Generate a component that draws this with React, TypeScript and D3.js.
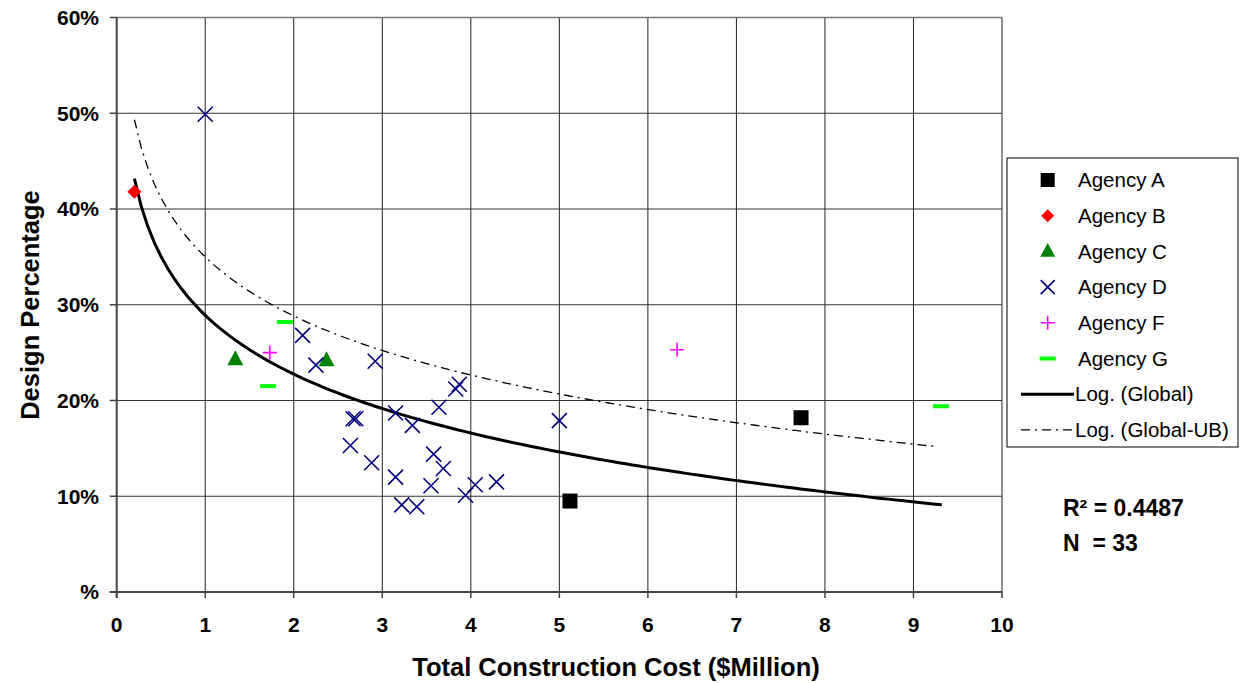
import React from "react";
import * as d3 from "d3";

// ---------- data ----------
const agencyA: [number, number][] = [[7.73, 18.2], [5.12, 9.5]];
const agencyB: [number, number][] = [[0.2, 41.8]];
const agencyC: [number, number][] = [[1.34, 24.4], [2.37, 24.3]];
const agencyD: [number, number][] = [
  [1.0, 49.9], [2.1, 26.8], [2.25, 23.7], [2.92, 24.1], [3.87, 21.7], [3.83, 21.2],
  [3.64, 19.3], [3.15, 18.7], [3.34, 17.4], [2.67, 18.1], [2.7, 18.1], [2.64, 15.3],
  [2.88, 13.5], [3.58, 14.4], [3.69, 12.9], [3.15, 12.0], [3.55, 11.1], [3.94, 10.1],
  [4.05, 11.2], [4.29, 11.5], [3.22, 9.1], [3.39, 8.9], [5.0, 17.9],
];
const agencyF: [number, number][] = [[1.73, 25.0], [6.33, 25.3]];
const agencyG: [number, number][] = [[1.9, 28.2], [1.71, 21.5], [9.31, 19.4]];

// logarithmic trendline coefficients (y = a*ln(x) + b), in %
const globalFit = { a: -8.87, b: 28.9, xMin: 0.2, xMax: 9.32 };
const upperFit = { a: -8.9, b: 35.0, xMin: 0.2, xMax: 9.25 };

const xTicks = [0, 1, 2, 3, 4, 5, 6, 7, 8, 9, 10];
const yTicks = [0, 10, 20, 30, 40, 50, 60];
const legendLabels = [
  "Agency A", "Agency B", "Agency C", "Agency D", "Agency F", "Agency G",
  "Log. (Global)", "Log. (Global-UB)",
];
const statsLines = ["R² = 0.4487", "N  = 33"];

// ---------- layout ----------
const W = 1247, H = 683;
const plot = { left: 116.7, right: 1002, top: 17.5, bottom: 592 };
const FONT = "'Liberation Sans', Arial, sans-serif";

const x = d3.scaleLinear().domain([0, 10]).range([plot.left, plot.right]);
const y = d3.scaleLinear().domain([0, 60]).range([plot.bottom, plot.top]);

const NAVY = "#000080";

function Square({ cx, cy, s = 15 }: { cx: number; cy: number; s?: number }) {
  return <rect x={cx - s / 2} y={cy - s / 2} width={s} height={s} fill="#000" />;
}
function Diamond({ cx, cy, r = 7 }: { cx: number; cy: number; r?: number }) {
  return <path d={`M${cx},${cy - r}L${cx + r},${cy}L${cx},${cy + r}L${cx - r},${cy}Z`} fill="#ff0000" />;
}
function Tri({ cx, cy, r = 8 }: { cx: number; cy: number; r?: number }) {
  return <path d={`M${cx},${cy - r}L${cx + r},${cy + r * 0.85}L${cx - r},${cy + r * 0.85}Z`} fill="#008000" />;
}
function XMark({ cx, cy, r = 7.5 }: { cx: number; cy: number; r?: number }) {
  return (
    <path d={`M${cx - r},${cy - r}L${cx + r},${cy + r}M${cx - r},${cy + r}L${cx + r},${cy - r}`}
      stroke={NAVY} strokeWidth={1.6} fill="none" />
  );
}
function Plus({ cx, cy, r = 7 }: { cx: number; cy: number; r?: number }) {
  return (
    <path d={`M${cx - r},${cy}L${cx + r},${cy}M${cx},${cy - r}L${cx},${cy + r}`}
      stroke="#ff00ff" strokeWidth={1.6} fill="none" />
  );
}
function Dash({ cx, cy }: { cx: number; cy: number }) {
  return <rect x={cx - 8} y={cy - 2} width={16} height={4} fill="#00ff00" />;
}

function fitPath(f: { a: number; b: number; xMin: number; xMax: number }) {
  const xs = d3.range(0, 121).map((i) => f.xMin + ((f.xMax - f.xMin) * i) / 120);
  return d3.line<number>().x((v) => x(v)).y((v) => y(f.a * Math.log(v) + f.b)).curve(d3.curveLinear)(xs) || "";
}

export default function App() {
  const lx = 1007, ly = 158, lw = 231, lh = 289;
  const legendY0 = 180, legendStep = 35.7;
  const symX = 1047.7, textX = 1078;

  const legendSymbols = [
    (cy: number) => <Square cx={symX} cy={cy} s={14} />,
    (cy: number) => <Diamond cx={symX} cy={cy} r={6.5} />,
    (cy: number) => <Tri cx={symX} cy={cy - 1} r={7.5} />,
    (cy: number) => <XMark cx={symX} cy={cy} r={7} />,
    (cy: number) => <Plus cx={symX} cy={cy} r={7} />,
    (cy: number) => <Dash cx={symX} cy={cy} />,
    (cy: number) => <line x1={1021} x2={1074} y1={cy} y2={cy} stroke="#000" strokeWidth={3} />,
    (cy: number) => <line x1={1021} x2={1074} y1={cy} y2={cy} stroke="#000" strokeWidth={1.3} strokeDasharray="9,5,2,5" />,
  ];

  return (
    <svg width={W} height={H} style={{ position: "absolute", left: 0, top: 0, background: "#fff" }}
      fontFamily={FONT}>
      <rect x={0} y={0} width={W} height={H} fill="#fff" />
      {/* gridlines */}
      {xTicks.filter((t) => t > 0).map((t) => (
        <line key={"vx" + t} x1={x(t)} x2={x(t)} y1={plot.top} y2={plot.bottom} stroke="#222" strokeWidth={1} />
      ))}
      {yTicks.filter((t) => t > 0).map((t) => (
        <line key={"hy" + t} x1={plot.left} x2={plot.right} y1={y(t)} y2={y(t)}
          stroke={t === 60 ? "#777" : "#333"} strokeWidth={t === 60 ? 1.5 : 1} />
      ))}
      {/* axes */}
      <line x1={plot.left} x2={plot.left} y1={plot.top} y2={plot.bottom + 6} stroke="#444" strokeWidth={2} />
      <line x1={plot.left - 7} x2={plot.right} y1={plot.bottom} y2={plot.bottom} stroke="#444" strokeWidth={2} />
      {yTicks.map((t) => (
        <line key={"yt" + t} x1={plot.left - 7} x2={plot.left} y1={y(t)} y2={y(t)} stroke="#444" strokeWidth={1.5} />
      ))}
      {xTicks.map((t) => (
        <line key={"xt" + t} x1={x(t)} x2={x(t)} y1={plot.bottom} y2={plot.bottom + 6} stroke="#444" strokeWidth={1.5} />
      ))}
      {yTicks.map((t) => (
        <text key={"yl" + t} x={99} y={y(t)} dy="0.35em" textAnchor="end" fontSize={21} fontWeight="bold">
          {t === 0 ? "%" : `${t}%`}
        </text>
      ))}
      {xTicks.map((t) => (
        <text key={"xl" + t} x={x(t)} y={625} dy="0.35em" textAnchor="middle" fontSize={21} fontWeight="bold">
          {t}
        </text>
      ))}
      <text x={616} y={667} dy="0.35em" textAnchor="middle" fontSize={25.5} fontWeight="bold">
        Total Construction Cost ($Million)
      </text>
      <text transform={`translate(30,305) rotate(-90)`} dy="0.35em" textAnchor="middle" fontSize={25.5} fontWeight="bold">
        Design Percentage
      </text>

      {/* trendlines */}
      <path d={fitPath(upperFit)} fill="none" stroke="#000" strokeWidth={1.3} strokeDasharray="9,5,2,5" />
      <path d={fitPath(globalFit)} fill="none" stroke="#000" strokeWidth={3} />

      {/* points */}
      {agencyA.map(([a, b], i) => <Square key={"a" + i} cx={x(a)} cy={y(b)} />)}
      {agencyB.map(([a, b], i) => <Diamond key={"b" + i} cx={x(a)} cy={y(b)} />)}
      {agencyC.map(([a, b], i) => <Tri key={"c" + i} cx={x(a)} cy={y(b)} />)}
      {agencyD.map(([a, b], i) => <XMark key={"d" + i} cx={x(a)} cy={y(b)} />)}
      {agencyF.map(([a, b], i) => <Plus key={"f" + i} cx={x(a)} cy={y(b)} />)}
      {agencyG.map(([a, b], i) => <Dash key={"g" + i} cx={x(a)} cy={y(b)} />)}

      {/* legend */}
      <rect x={lx} y={ly} width={lw} height={lh} fill="#fff" stroke="#000" strokeWidth={1} />
      {legendLabels.map((lab, i) => {
        const cy = legendY0 + i * legendStep;
        return (
          <g key={lab}>
            {legendSymbols[i](cy)}
            <text x={i >= 6 ? 1075 : textX} y={cy} dy="0.35em" fontSize={20.5}>{lab}</text>
          </g>
        );
      })}

      {/* stats */}
      {statsLines.map((s, i) => (
        <text key={s} x={1063} y={508 + i * 35} dy="0.35em" fontSize={23} fontWeight="bold"
          style={{ whiteSpace: "pre" }}>{s}</text>
      ))}
    </svg>
  );
}
